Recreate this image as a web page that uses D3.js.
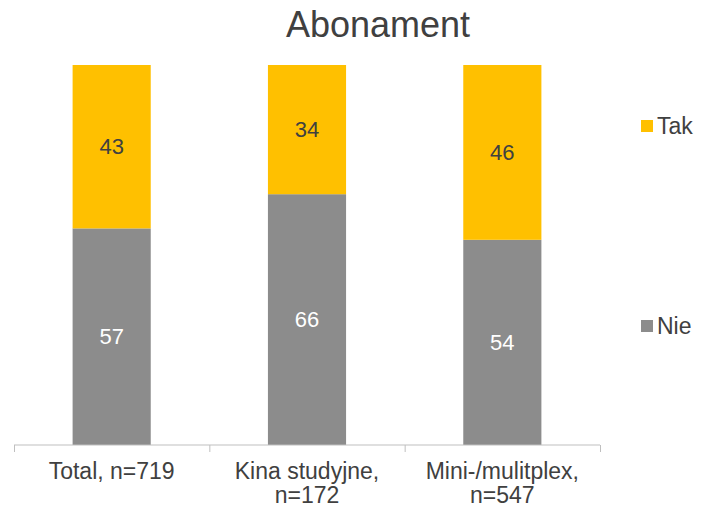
<!DOCTYPE html>
<html>
<head>
<meta charset="utf-8">
<script src="https://cdn.jsdelivr.net/npm/d3@7"></script>
<style>
  body { margin: 0; background: #fff; }
  text { font-family: "Liberation Sans", Arial, sans-serif; }
</style>
</head>
<body>
<div class="chart"></div>
<script>
var categories = [['Total, n=719'], ['Kina studyjne,', 'n=172'], ['Mini-/mulitplex,', 'n=547']];
var nie = [57, 66, 54];
var tak = [43, 34, 46];
var seriesNames = ['Nie', 'Tak'];
var title = 'Abonament';

var width = 701,
    height = 511;

var colors = {Nie: '#8c8c8c', Tak: '#ffc000'};
var labelColors = {Nie: '#ffffff', Tak: '#404040'};

var rows = categories.map((c, i) => ({key: c.join(' '), lines: c, Nie: nie[i], Tak: tak[i]}));

var svg = d3.select('div.chart')
    .append('svg')
        .attr('width', width)
        .attr('height', height);

var x = d3.scaleBand()
    .domain(rows.map((d) => d.key))
    .range([14, 600])
    .padding(0);

var barW = x.bandwidth() * 0.4;

var y = d3.scaleLinear()
    .domain([0, 100])
    .range([445, 65]);

var stack = d3.stack().keys(seriesNames);
var layers = stack(rows);

var layer = svg.selectAll('g.layer')
    .data(layers)
    .enter()
    .append('g')
        .attr('class', 'layer')
        .attr('fill', (d) => colors[d.key]);

layer.selectAll('rect')
    .data((d) => d)
    .enter()
    .append('rect')
        .attr('x', (d) => x(d.data.key) + (x.bandwidth() - barW) / 2)
        .attr('y', (d) => y(d[1]))
        .attr('width', barW)
        .attr('height', (d) => y(d[0]) - y(d[1]));

// value labels
layers.forEach(function(l) {
    svg.append('g')
        .selectAll('text')
        .data(l)
        .enter()
        .append('text')
            .attr('x', (d) => x(d.data.key) + x.bandwidth() / 2)
            .attr('y', (d) => (y(d[0]) + y(d[1])) / 2)
            .attr('dy', '0.35em')
            .attr('text-anchor', 'middle')
            .attr('font-size', 22)
            .attr('fill', labelColors[l.key])
            .text((d) => d.data[l.key]);
});

// x axis
var axis = svg.append('g')
    .attr('transform', 'translate(0,' + y(0) + ')')
    .call(d3.axisBottom(x).tickSize(0).tickFormat(''));
axis.select('.domain').attr('stroke', '#bfbfbf').attr('d', 'M14,0H600');

var bounds = x.domain().map((k) => x(k)).concat([x.range()[1]]);
axis.selectAll('line.sep')
    .data(bounds)
    .enter()
    .append('line')
        .attr('class', 'sep')
        .attr('x1', (d) => d + 0.5)
        .attr('x2', (d) => d + 0.5)
        .attr('y1', 0)
        .attr('y2', 7)
        .attr('stroke', '#bfbfbf');

var catLabel = svg.append('g')
    .selectAll('text')
    .data(rows)
    .enter()
    .append('text')
        .attr('x', (d) => x(d.key) + x.bandwidth() / 2)
        .attr('y', 479)
        .attr('text-anchor', 'middle')
        .attr('font-size', 23)
        .attr('fill', '#404040');

catLabel.selectAll('tspan')
    .data((d) => d.lines)
    .enter()
    .append('tspan')
        .attr('x', function() { return this.parentNode.getAttribute('x'); })
        .attr('dy', (d, i) => i === 0 ? 0 : 24)
        .text((d) => d);

// title
svg.append('text')
    .attr('x', 378)
    .attr('y', 37)
    .attr('text-anchor', 'middle')
    .attr('font-size', 36)
    .attr('fill', '#404040')
    .text(title);

// legend
var legendY = {Tak: 126, Nie: 326};
var legend = svg.selectAll('g.legend')
    .data(seriesNames.slice().reverse())
    .enter()
    .append('g')
        .attr('class', 'legend')
        .attr('transform', (d) => 'translate(641,' + legendY[d] + ')');

legend.append('rect')
    .attr('x', 0)
    .attr('y', -6)
    .attr('width', 12)
    .attr('height', 12)
    .attr('fill', (d) => colors[d]);

legend.append('text')
    .attr('x', 16)
    .attr('dy', '0.35em')
    .attr('font-size', 23)
    .attr('fill', '#404040')
    .text((d) => d);
</script>
</body>
</html>
